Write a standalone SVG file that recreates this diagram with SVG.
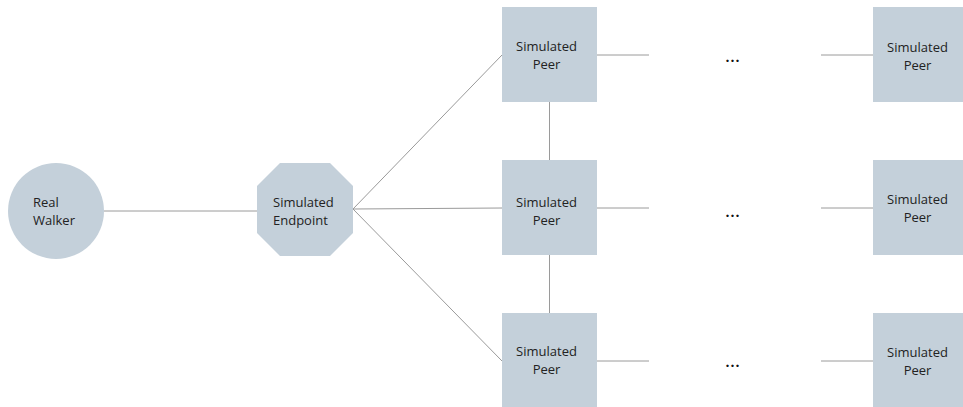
<svg xmlns="http://www.w3.org/2000/svg" width="963" height="407" viewBox="0 0 963 407">
<style>
.n{fill:#c4d0da;}
.t{font-family:"Open Sans","Liberation Sans",sans-serif;font-size:13px;fill:#222;}
.c{text-anchor:middle;}
.e{font-family:"Open Sans","Liberation Sans",sans-serif;font-size:14px;font-weight:bold;fill:#111;text-anchor:middle;letter-spacing:1px;}
.l{stroke:#9a9a9a;stroke-width:1;fill:none;}
</style>
<rect width="963" height="407" fill="#fff"/>
<g id="connectors">
<line class="l" x1="104" y1="211" x2="257" y2="211"/>
<line class="l" x1="353" y1="209" x2="502" y2="55"/>
<line class="l" x1="353" y1="209" x2="502" y2="208"/>
<line class="l" x1="353" y1="209" x2="502" y2="361"/>
<line class="l" x1="549.5" y1="102" x2="549.5" y2="160"/>
<line class="l" x1="549.5" y1="255" x2="549.5" y2="313"/>
<line class="l" x1="597" y1="55" x2="649" y2="55"/>
<line class="l" x1="597" y1="208" x2="649" y2="208"/>
<line class="l" x1="597" y1="361" x2="649" y2="361"/>
<line class="l" x1="821" y1="55" x2="873" y2="55"/>
<line class="l" x1="821" y1="208" x2="873" y2="208"/>
<line class="l" x1="821" y1="361" x2="873" y2="361"/>
</g>
<g id="walker">
<circle class="n" cx="56" cy="211" r="48"/>
<text class="t" x="33" y="207">Real</text>
<text class="t" x="33" y="225">Walker</text>
</g>
<g id="endpoint">
<polygon class="n" points="280,163 330,163 353,186 353,233 330,256 280,256 257,233 257,186"/>
<text class="t" x="273" y="207">Simulated</text>
<text class="t" x="273" y="225">Endpoint</text>
</g>
<g id="peer1">
<rect class="n" x="502" y="7" width="95" height="95"/>
<text class="t c" x="546.5" y="51">Simulated</text>
<text class="t c" x="546.5" y="69">Peer</text>
</g>
<g id="peer2">
<rect class="n" x="502" y="160" width="95" height="95"/>
<text class="t c" x="546.5" y="207">Simulated</text>
<text class="t c" x="546.5" y="225">Peer</text>
</g>
<g id="peer3">
<rect class="n" x="502" y="313" width="95" height="94"/>
<text class="t c" x="546.5" y="356">Simulated</text>
<text class="t c" x="546.5" y="374">Peer</text>
</g>
<g id="dots1"><text class="e" x="733" y="62">...</text></g>
<g id="dots2"><text class="e" x="733" y="217">...</text></g>
<g id="dots3"><text class="e" x="733" y="367">...</text></g>
<g id="peerN1">
<rect class="n" x="873" y="7" width="95" height="95"/>
<text class="t c" x="917.5" y="52">Simulated</text>
<text class="t c" x="917.5" y="70">Peer</text>
</g>
<g id="peerN2">
<rect class="n" x="873" y="160" width="95" height="95"/>
<text class="t c" x="917.5" y="204">Simulated</text>
<text class="t c" x="917.5" y="222">Peer</text>
</g>
<g id="peerN3">
<rect class="n" x="873" y="313" width="95" height="94"/>
<text class="t c" x="917.5" y="357">Simulated</text>
<text class="t c" x="917.5" y="375">Peer</text>
</g>
</svg>
